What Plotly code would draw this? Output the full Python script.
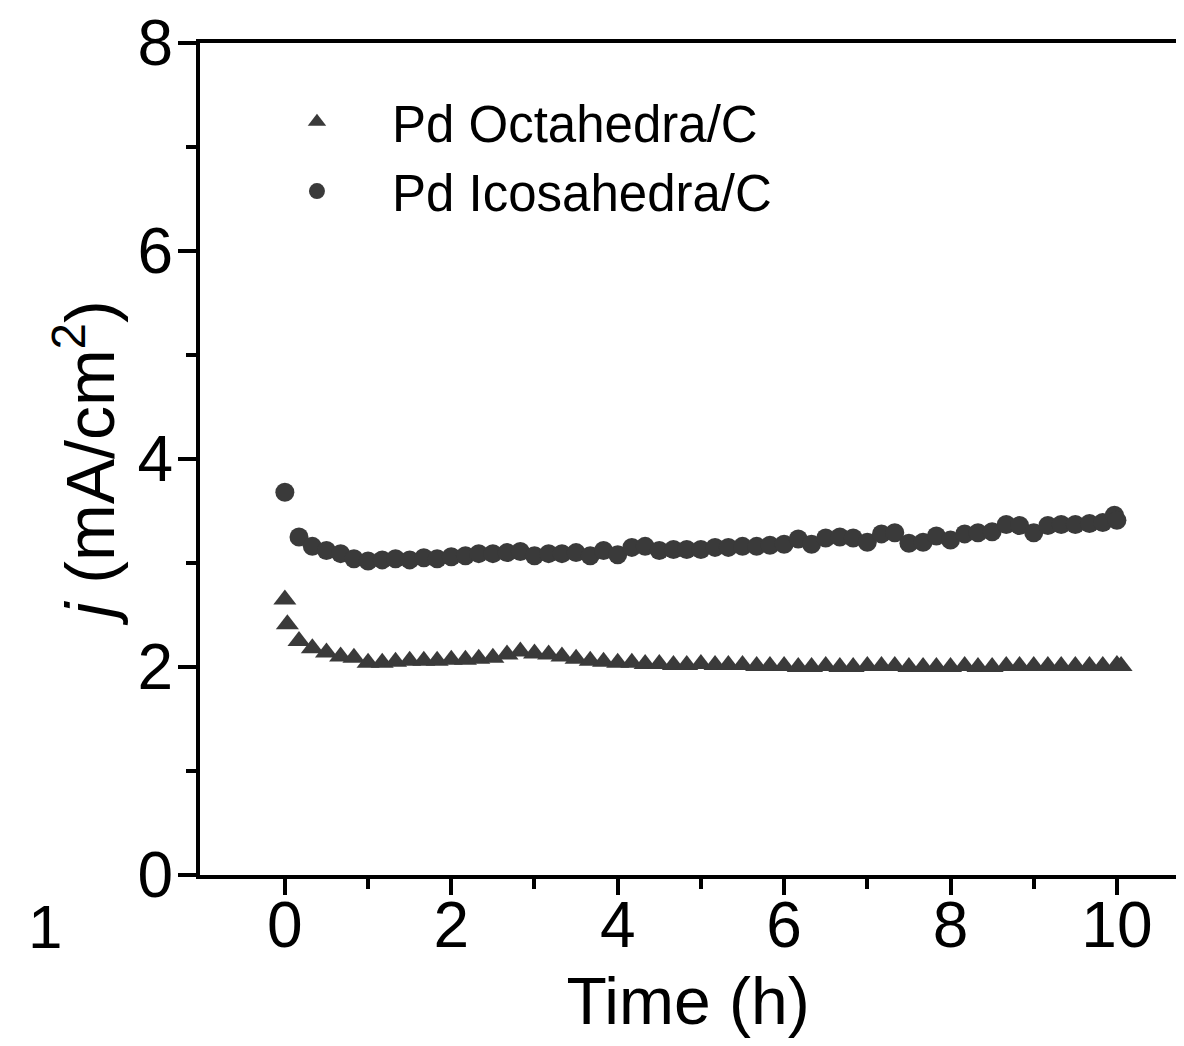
import plotly.graph_objects as go

# ---- data ----
oct_time = [0.0, 0.03, 0.17, 0.33, 0.5, 0.67, 0.83, 1.0, 1.17, 1.33, 1.5, 1.67, 1.83, 2.0,
            2.17, 2.33, 2.5, 2.67, 2.83, 3.0, 3.17, 3.33, 3.5, 3.67, 3.83, 4.0, 4.17, 4.33,
            4.5, 4.67, 4.83, 5.0, 5.17, 5.33, 5.5, 5.67, 5.83, 6.0, 6.17, 6.33, 6.5, 6.67,
            6.83, 7.0, 7.17, 7.33, 7.5, 7.67, 7.83, 8.0, 8.17, 8.33, 8.5, 8.67, 8.83, 9.0,
            9.17, 9.33, 9.5, 9.67, 9.83, 10.0, 10.05]
oct_j = [2.65, 2.41, 2.25, 2.18, 2.14, 2.10, 2.09, 2.04, 2.04, 2.05, 2.06, 2.06, 2.06, 2.07,
         2.07, 2.08, 2.09, 2.12, 2.15, 2.13, 2.12, 2.10, 2.08, 2.06, 2.05, 2.04, 2.04, 2.03,
         2.03, 2.02, 2.02, 2.03, 2.02, 2.02, 2.02, 2.01, 2.01, 2.01, 2.00, 2.00, 2.01, 2.00,
         2.00, 2.01, 2.01, 2.01, 2.00, 2.00, 2.00, 2.00, 2.01, 2.00, 2.00, 2.01, 2.01, 2.01,
         2.01, 2.01, 2.01, 2.01, 2.01, 2.02, 2.01]

ico_time = [0.0, 0.17, 0.33, 0.5, 0.67, 0.83, 1.0, 1.17, 1.33, 1.5, 1.67, 1.83, 2.0,
            2.17, 2.33, 2.5, 2.67, 2.83, 3.0, 3.17, 3.33, 3.5, 3.67, 3.83, 4.0, 4.17, 4.33,
            4.5, 4.67, 4.83, 5.0, 5.17, 5.33, 5.5, 5.67, 5.83, 6.0, 6.17, 6.33, 6.5, 6.67,
            6.83, 7.0, 7.17, 7.33, 7.5, 7.67, 7.83, 8.0, 8.17, 8.33, 8.5, 8.67, 8.83, 9.0,
            9.17, 9.33, 9.5, 9.67, 9.83, 9.97, 10.0]
ico_j = [3.68, 3.25, 3.16, 3.12, 3.09, 3.04, 3.02, 3.03, 3.04, 3.03, 3.05, 3.04, 3.06,
         3.07, 3.09, 3.09, 3.10, 3.11, 3.07, 3.09, 3.09, 3.10, 3.07, 3.12, 3.08, 3.15, 3.16,
         3.12, 3.13, 3.13, 3.13, 3.15, 3.15, 3.16, 3.16, 3.17, 3.18, 3.23, 3.18, 3.24, 3.25,
         3.24, 3.20, 3.28, 3.29, 3.19, 3.20, 3.26, 3.22, 3.28, 3.29, 3.30, 3.37, 3.36, 3.29,
         3.36, 3.37, 3.37, 3.38, 3.39, 3.46, 3.41]

x_ticks = [0, 2, 4, 6, 8, 10]
y_ticks = [0, 2, 4, 6, 8]

FONT = "Arial, Liberation Sans, sans-serif"
MARK = "#3a3a3a"

fig = go.Figure()
fig.add_trace(go.Scatter(x=oct_time, y=oct_j, mode="markers", name="Pd Octahedra/C",
                         marker=dict(symbol="triangle-up", size=20, color=MARK)))
fig.add_trace(go.Scatter(x=ico_time, y=ico_j, mode="markers", name="Pd Icosahedra/C",
                         marker=dict(symbol="circle", size=19, color=MARK)))

# page has an 8px body margin: figure sized to fit inside the window
fig.update_layout(
    width=1168, height=1030,
    margin=dict(l=192, r=0, t=35, b=163, autoexpand=False),
    paper_bgcolor="white", plot_bgcolor="white",
    font=dict(family=FONT, color="black"),
    showlegend=True,
    legend=dict(x=0.043, y=0.953, xanchor="left", yanchor="top",
                font=dict(size=51, family=FONT, color="black"),
                bgcolor="rgba(0,0,0,0)", itemwidth=140, tracegroupgap=0,
                itemsizing="trace"),
    annotations=[dict(text="1", xref="paper", yref="paper", x=-0.1588, y=-0.062,
                      xanchor="center", yanchor="middle", showarrow=False,
                      font=dict(size=62, family=FONT, color="black"))],
)
fig.update_xaxes(
    range=[-1.02, 10.71], tickvals=x_ticks, ticktext=[str(v) for v in x_ticks],
    automargin=False, ticklabeloverflow="allow",
    showgrid=False, zeroline=False, showline=True, linecolor="black", linewidth=4,
    mirror=True, ticks="outside", ticklen=16, tickwidth=4, tickcolor="black",
    ticklabelstandoff=-25,
    tickfont=dict(size=64, family=FONT, color="black"),
    minor=dict(tickvals=[1, 3, 5, 7, 9], ticks="outside", ticklen=10, tickwidth=4, tickcolor="black"),
    title=dict(text="Time (h)", font=dict(size=66, family=FONT, color="black"), standoff=19),
)
fig.update_yaxes(
    range=[0, 8], tickvals=y_ticks, ticktext=[str(v) for v in y_ticks],
    automargin=False, ticklabeloverflow="allow",
    showgrid=False, zeroline=False, showline=True, linecolor="black", linewidth=4,
    mirror=False, ticks="outside", ticklen=18, tickwidth=4, tickcolor="black",
    ticklabelstandoff=-8,
    tickfont=dict(size=64, family=FONT, color="black"),
    minor=dict(tickvals=[1, 3, 5, 7], ticks="outside", ticklen=10, tickwidth=4, tickcolor="black"),
    title=dict(text="<i>j</i> (mA/cm<sup>2</sup>)", font=dict(size=68, family=FONT, color="black"),
               standoff=2),
)

fig.write_html("out.html")
